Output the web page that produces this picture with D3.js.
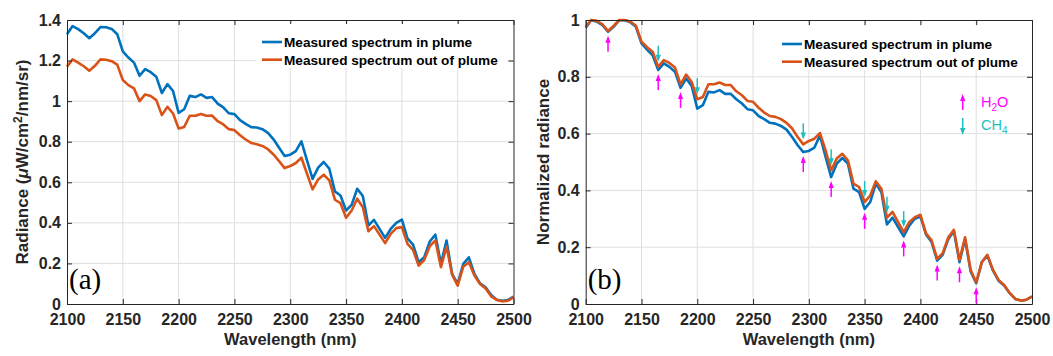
<!DOCTYPE html>
<html>
<head>
<meta charset="utf-8">
<script src="https://cdn.jsdelivr.net/npm/d3@7"></script>
<style>
  body { margin: 0; background: #fff; }
  text { font-family: "Liberation Sans", Arial, Helvetica, sans-serif; }
</style>
</head>
<body>
<svg width="1053" height="356"></svg>
<script>
// wavelength grid (nm)
var wavelengths = d3.range(2100, 2501, 5);

// (a) radiance, uW/cm2/nm/sr
var radianceIn = [1.330,1.370,1.355,1.335,1.310,1.335,1.365,1.364,1.356,1.330,
  1.245,1.215,1.190,1.125,1.158,1.143,1.120,1.040,1.084,1.050,
  0.942,0.960,1.026,1.020,1.033,1.016,1.020,0.988,0.969,0.940,
  0.936,0.906,0.888,0.872,0.870,0.862,0.844,0.812,0.770,0.730,
  0.736,0.754,0.802,0.708,0.617,0.672,0.700,0.667,0.555,0.535,
  0.461,0.489,0.568,0.532,0.387,0.415,0.370,0.326,0.370,0.400,
  0.416,0.324,0.293,0.206,0.230,0.308,0.342,0.198,0.313,0.148,
  0.099,0.198,0.230,0.148,0.102,0.082,0.044,0.021,0.016,0.020,0.036];
var radianceOut = [1.170,1.206,1.190,1.172,1.150,1.174,1.206,1.204,1.197,1.180,
  1.104,1.079,1.063,1.000,1.033,1.025,1.005,0.931,0.972,0.939,
  0.865,0.873,0.928,0.928,0.937,0.928,0.929,0.901,0.885,0.862,
  0.857,0.832,0.811,0.794,0.788,0.779,0.763,0.737,0.704,0.670,
  0.680,0.695,0.721,0.642,0.565,0.614,0.637,0.609,0.514,0.497,
  0.425,0.461,0.519,0.477,0.359,0.384,0.342,0.300,0.346,0.374,
  0.379,0.296,0.267,0.189,0.217,0.285,0.313,0.181,0.283,0.145,
  0.091,0.184,0.206,0.140,0.099,0.077,0.038,0.020,0.013,0.016,0.033];

// (b) normalized radiance
var normIn = [0.973,1.000,0.994,0.982,0.959,0.976,0.999,0.999,0.992,0.976,
  0.918,0.896,0.876,0.824,0.847,0.835,0.818,0.761,0.794,0.768,
  0.688,0.700,0.747,0.745,0.753,0.740,0.740,0.721,0.706,0.686,
  0.682,0.662,0.651,0.638,0.635,0.627,0.614,0.588,0.559,0.535,
  0.539,0.551,0.594,0.518,0.447,0.494,0.514,0.494,0.406,0.394,
  0.335,0.359,0.424,0.394,0.280,0.304,0.271,0.238,0.276,0.300,
  0.308,0.245,0.218,0.153,0.174,0.229,0.256,0.147,0.229,0.115,
  0.073,0.147,0.171,0.118,0.082,0.065,0.038,0.018,0.012,0.015,0.026];
var normOut = [0.976,1.000,0.997,0.985,0.961,0.979,1.000,1.000,0.995,0.980,
  0.924,0.904,0.888,0.835,0.859,0.849,0.833,0.773,0.808,0.782,
  0.721,0.729,0.774,0.774,0.780,0.771,0.771,0.749,0.735,0.715,
  0.712,0.691,0.674,0.662,0.659,0.651,0.638,0.618,0.588,0.562,
  0.574,0.582,0.602,0.541,0.471,0.512,0.529,0.506,0.424,0.412,
  0.359,0.382,0.432,0.406,0.304,0.324,0.288,0.253,0.288,0.306,
  0.314,0.249,0.224,0.159,0.179,0.235,0.261,0.155,0.235,0.120,
  0.076,0.147,0.173,0.120,0.085,0.067,0.039,0.018,0.012,0.015,0.027];

// absorption band markers in (b)
var h2oBands = [2120, 2165, 2185, 2295, 2320, 2350, 2385, 2415, 2435, 2450];
var ch4Bands = [2165, 2200, 2295, 2320, 2350, 2370, 2385];

var xTicks = [2100, 2150, 2200, 2250, 2300, 2350, 2400, 2450, 2500];
var yTicksA = [0, 0.2, 0.4, 0.6, 0.8, 1, 1.2, 1.4];
var yLabelsA = ["0", "0.2", "0.4", "0.6", "0.8", "1", "1.2", "1.4"];
var yTicksB = [0, 0.2, 0.4, 0.6, 0.8, 1];
var yLabelsB = ["0", "0.2", "0.4", "0.6", "0.8", "1"];
var seriesNames = ["Measured spectrum in plume", "Measured spectrum out of plume"];
var colors = ["#0072BD", "#D95319"];
var h2oColor = "#FF00FF", ch4Color = "#19BFBF";

var svg = d3.select("svg");
var plotTop = 20, plotBottom = 304;

function drawPanel(p) {
  var x = d3.scaleLinear().domain([2100, 2500]).range([p.left, p.right]);
  var y = d3.scaleLinear().domain([0, p.ymax]).range([plotBottom, plotTop]);
  var g = svg.append("g");

  // grid
  g.selectAll(".gx").data(xTicks.slice(1, -1)).enter().append("line")
      .attr("x1", d => x(d)).attr("x2", d => x(d))
      .attr("y1", plotTop).attr("y2", plotBottom)
      .attr("stroke", "#dfdfdf").attr("stroke-width", 1);
  g.selectAll(".gy").data(p.yTicks.slice(1, -1)).enter().append("line")
      .attr("y1", d => y(d)).attr("y2", d => y(d))
      .attr("x1", p.left).attr("x2", p.right)
      .attr("stroke", "#dfdfdf").attr("stroke-width", 1);

  // curves
  var line = d3.line()
      .x(function(d, i) { return x(wavelengths[i]); })
      .y(function(d) { return y(d); });
  p.series.forEach(function(s, k) {
    g.append("path").datum(s)
        .attr("d", line)
        .attr("fill", "none")
        .attr("stroke", colors[k])
        .attr("stroke-width", 2.6)
        .attr("stroke-linejoin", "round");
  });

  // axes (box with inward ticks)
  var fmt = function(d) { return p.yLabels[p.yTicks.indexOf(d)]; };
  var axB = g.append("g").attr("transform", "translate(0," + plotBottom + ")")
      .call(d3.axisBottom(x).tickValues(xTicks).tickFormat(d3.format("d")).tickSize(-5).tickSizeOuter(0).tickPadding(10));
  var axL = g.append("g").attr("transform", "translate(" + p.left + ",0)")
      .call(d3.axisLeft(y).tickValues(p.yTicks).tickFormat(fmt).tickSize(-5).tickSizeOuter(0).tickPadding(6));
  var axT = g.append("g").attr("transform", "translate(0," + plotTop + ")")
      .call(d3.axisTop(x).tickValues(xTicks).tickFormat("").tickSize(-5).tickSizeOuter(0));
  var axR = g.append("g").attr("transform", "translate(" + p.right + ",0)")
      .call(d3.axisRight(y).tickValues(p.yTicks).tickFormat("").tickSize(-5).tickSizeOuter(0));
  [axB, axL, axT, axR].forEach(function(a) {
    a.selectAll("path,line").attr("stroke", "#262626");
    a.selectAll("text").attr("fill", "#262626")
        .style("font-size", "16px").style("font-weight", "bold")
        .style("font-family", "'Liberation Sans', Arial, sans-serif");
  });

  // axis titles
  g.append("text")
      .attr("x", (p.left + p.right) / 2).attr("y", 345)
      .attr("text-anchor", "middle")
      .style("font-size", "16.5px").style("font-weight", "bold").attr("fill", "#262626")
      .text("Wavelength (nm)");
  var yt = g.append("text")
      .attr("transform", "translate(" + p.ylabX + "," + (plotTop + plotBottom) / 2 + ") rotate(-90)")
      .attr("text-anchor", "middle")
      .style("font-size", "17px").style("font-weight", "bold").attr("fill", "#262626");
  p.ylabel(yt);

  // panel tag
  g.append("text")
      .attr("x", p.left + 2).attr("y", 289)
      .style("font-family", "'Liberation Serif', 'Times New Roman', serif")
      .style("font-size", "29px")
      .text(p.tag);

  // legend
  var lg = g.append("g").attr("transform", "translate(" + p.legX + "," + p.legY + ")");
  lg.append("rect").attr("x", -6).attr("y", -18).attr("width", 252).attr("height", 44).attr("fill", "#fff");
  seriesNames.forEach(function(n, k) {
    lg.append("line").attr("x1", 0).attr("x2", 20)
        .attr("y1", k * 17.7).attr("y2", k * 17.7)
        .attr("stroke", colors[k]).attr("stroke-width", 2.6);
    lg.append("text").attr("x", 22).attr("y", k * 17.7 + 4.8)
        .style("font-size", "13.6px").style("font-weight", "bold")
        .text(n);
  });

  return {x: x, y: y, g: g};
}

drawPanel({
  left: 67, right: 513.5, ymax: 1.4, yTicks: yTicksA, yLabels: yLabelsA,
  series: [radianceIn, radianceOut], tag: "(a)", ylabX: 28, legX: 262, legY: 42,
  ylabel: function(t) {
    t.append("tspan").text("Radiance (");
    t.append("tspan").style("font-style", "italic").text("\u03bc");
    t.append("tspan").text("W/cm");
    t.append("tspan").attr("dy", -6).style("font-size", "12px").text("2");
    t.append("tspan").attr("dy", 6).text("/nm/sr)");
  }
});

var pb = drawPanel({
  left: 585.7, right: 1032, ymax: 1, yTicks: yTicksB, yLabels: yLabelsB,
  series: [normIn, normOut], tag: "(b)", ylabX: 549, legX: 782, legY: 44,
  ylabel: function(t) { t.text("Normalized radiance"); }
});

// absorption arrows
function arrow(g, xp, yTail, yTip, color) {
  var dir = yTip < yTail ? 1 : -1;
  g.append("line").attr("x1", xp).attr("x2", xp)
      .attr("y1", yTail).attr("y2", yTip + dir * 4)
      .attr("stroke", color).attr("stroke-width", 1.5);
  g.append("path")
      .attr("d", "M" + xp + "," + yTip + "L" + (xp - 2.6) + "," + (yTip + dir * 7) + "L" + (xp + 2.6) + "," + (yTip + dir * 7) + "Z")
      .attr("fill", color);
}
h2oBands.forEach(function(w) {
  var i = wavelengths.indexOf(w);
  var tip = pb.y(normIn[i]) + 4;
  arrow(pb.g, pb.x(w), tip + 16, tip, h2oColor);
});
ch4Bands.forEach(function(w) {
  var i = wavelengths.indexOf(w);
  var tip = pb.y(normOut[i]) - 5;
  arrow(pb.g, pb.x(w), tip - 16, tip, ch4Color);
});

// arrow key
arrow(pb.g, 962.7, 110, 94, h2oColor);
arrow(pb.g, 962.7, 118, 135, ch4Color);
var k1 = pb.g.append("text").attr("x", 981).attr("y", 107).attr("fill", h2oColor).style("font-size", "14.5px");
k1.append("tspan").text("H");
k1.append("tspan").attr("dy", 4).style("font-size", "10px").text("2");
k1.append("tspan").attr("dy", -4).text("O");
var k2 = pb.g.append("text").attr("x", 981).attr("y", 130).attr("fill", ch4Color).style("font-size", "14.5px");
k2.append("tspan").text("CH");
k2.append("tspan").attr("dy", 4).style("font-size", "10px").text("4");
</script>
</body>
</html>
